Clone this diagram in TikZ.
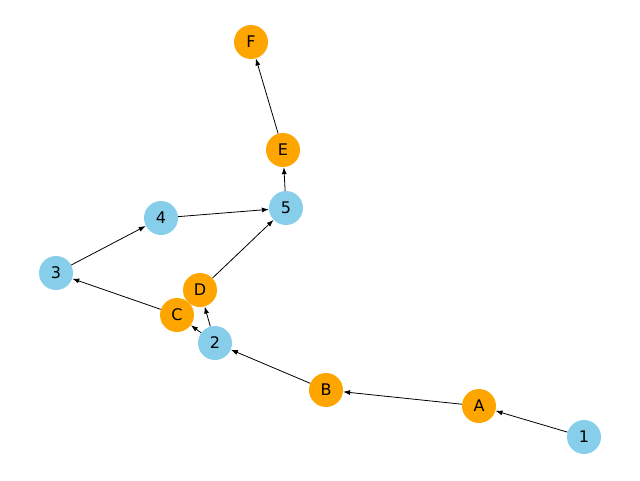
\documentclass[tikz,border=0pt]{standalone}
\usepackage{fontspec}
\setmainfont{DejaVu Sans}
\usetikzlibrary{arrows.meta}
\definecolor{skyblue}{RGB}{135,206,235}
\definecolor{nxorange}{RGB}{255,165,0}
\begin{document}
\begin{tikzpicture}[x=1pt, y=-1pt,
    num/.style={circle, fill=skyblue, minimum size=34pt, inner sep=0pt, font=\fontsize{16}{18}\selectfont},
    let/.style={circle, fill=nxorange, minimum size=34pt, inner sep=0pt, font=\fontsize{16}{18}\selectfont},
    edge/.style={-{Latex[length=7pt, width=5pt]}, line width=0.8pt, shorten >=0pt}]
    \useasboundingbox (0,0) rectangle (640,480);
    \node[let] (F) at (251,42)  {F};
    \node[let] (E) at (283,150) {E};
    \node[num] (5) at (286,208) {5};
    \node[num] (4) at (161,218) {4};
    \node[num] (3) at (56,273)  {3};
    \node[let] (D) at (200,290) {D};
    \node[let] (C) at (177,315) {C};
    \node[num] (2) at (215,343) {2};
    \node[let] (B) at (326,390) {B};
    \node[let] (A) at (479,406) {A};
    \node[num] (1) at (584,437) {1};

    \draw[edge] (1) -- (A);
    \draw[edge] (A) -- (B);
    \draw[edge] (B) -- (2);
    \draw[edge] (2) -- (C);
    \draw[edge] (2) -- (D);
    \draw[edge] (C) -- (3);
    \draw[edge] (3) -- (4);
    \draw[edge] (4) -- (5);
    \draw[edge] (D) -- (5);
    \draw[edge] (5) -- (E);
    \draw[edge] (E) -- (F);
\end{tikzpicture}
\end{document}
